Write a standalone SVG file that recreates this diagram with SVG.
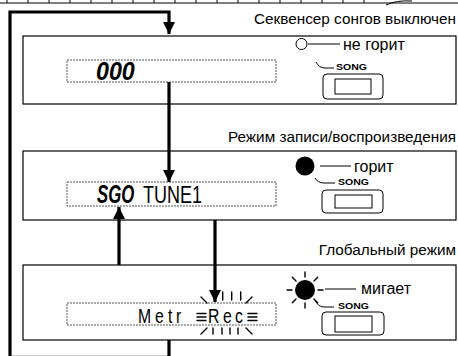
<svg xmlns="http://www.w3.org/2000/svg" width="458" height="356" viewBox="0 0 458 356">
<style>
.panel{fill:#fff;stroke:#000;stroke-width:1.2}
.disp{fill:none;stroke:#555;stroke-width:1;stroke-dasharray:2 1}
.conn{fill:none;stroke:#000;stroke-width:3.2}
.thin{fill:none;stroke:#000;stroke-width:1}
.ray{fill:none;stroke:#000;stroke-width:1.4;stroke-linecap:round}
.hdr{font-family:"Liberation Sans",Arial,sans-serif;font-size:15.3px;fill:#000;text-anchor:end}
.lbl{font-family:"Liberation Sans",Arial,sans-serif;font-size:16px;fill:#000}
.song{font-family:"Liberation Sans",Arial,sans-serif;font-size:9px;font-weight:bold;fill:#000}
.lcd{font-family:"Liberation Sans",Arial,sans-serif;font-size:25px;font-weight:bold;font-style:italic;fill:#000}
.seg{font-family:"Liberation Sans",Arial,sans-serif;font-size:24px;fill:#000}
.met{font-family:"Liberation Sans",Arial,sans-serif;font-size:21px;fill:#000}
.btn{fill:#fff;stroke:#000;stroke-width:1}
</style>
<defs>
<marker id="ah" markerUnits="userSpaceOnUse" markerWidth="12" markerHeight="12" refX="10" refY="5" orient="auto" viewBox="0 0 10 10">
<path d="M0,0 L10,5 L0,10 z" fill="#000"/>
</marker>
</defs>
<g id="edge">
<line x1="0" y1="3" x2="458" y2="3" stroke="#000" stroke-width="1"/>
<path d="M7,0V3M28,0V3M49,0V3M70,0V3M91,0V3M112,0V3M133,0V3M154,0V3M175,0V3M196,0V3M217,0V3M238,0V3M259,0V3M280,0V3M301,0V3M322,0V3M343,0V3M364,0V3" stroke="#000" stroke-width="1"/>
<path d="M386,5 Q396,0 412,1" fill="none" stroke="#000" stroke-width="1"/>
<line x1="10" y1="355.5" x2="169" y2="355.5" stroke="#ccc" stroke-width="1"/>
</g>
<g id="panel1">
<rect class="panel" x="23" y="36" width="433" height="68"/>
<text class="hdr" x="456" y="24">Секвенсер сонгов выключен</text>
<rect class="disp" x="67" y="60" width="209" height="22"/>
<text class="lcd" transform="translate(96 80) scale(0.93 1)" x="0" y="0">000</text>
<circle cx="301.5" cy="44" r="5.5" fill="#fff" stroke="#000" stroke-width="1"/>
<line class="thin" x1="308" y1="44" x2="340" y2="44"/>
<text class="lbl" x="343" y="50">не горит</text>
<path class="thin" d="M316,62 Q319,68 325,68 H334"/>
<text class="song" x="336" y="70" textLength="31" lengthAdjust="spacingAndGlyphs">SONG</text>
<rect class="btn" x="323" y="74" width="60" height="25" rx="4"/>
<rect class="btn" x="335" y="79" width="36" height="15"/>
</g>
<g id="panel2">
<rect class="panel" x="23" y="151" width="433" height="69"/>
<text class="hdr" x="456" y="142">Режим записи/воспроизведения</text>
<rect class="disp" x="67" y="182" width="209" height="24"/>
<text class="lcd" transform="translate(97 203) scale(0.67 1)" x="0" y="0">SGO</text>
<text class="seg" transform="translate(143 203) scale(0.75 1)" x="0" y="0">TUNE1</text>
<circle cx="305" cy="166" r="9.5" fill="#000"/>
<line class="thin" x1="320" y1="166" x2="351" y2="166"/>
<text class="lbl" x="354" y="172">горит</text>
<path class="thin" d="M315,178 Q318,183 324,183 H335"/>
<text class="song" x="338" y="185" textLength="31" lengthAdjust="spacingAndGlyphs">SONG</text>
<rect class="btn" x="322" y="190" width="61" height="23" rx="4"/>
<rect class="btn" x="335" y="195" width="37" height="13"/>
</g>
<g id="panel3">
<rect class="panel" x="23" y="265" width="433" height="75"/>
<text class="hdr" x="456" y="255">Глобальный режим</text>
<rect class="disp" x="67" y="303" width="209" height="22"/>
<text class="met" transform="scale(0.75 1)" x="184 206.7 224 234.7 277.3 297.3 313.3" y="323">MetrRec</text>
<path class="ray" d="M197,313.5H206M197,317H206M197,320.5H206M248,313.5H257M248,317H257M248,320.5H257"/>
<path class="ray" d="M201,297L207,303M222.7,292V300M231.7,292V300M240.7,292V300M252,297L246,303"/>
<path class="ray" d="M201,334L207,328M213,328V334M222,328V334M230,328V334M238,328V334M252,334L246,328"/>
<circle cx="305" cy="290" r="10" fill="#000"/>
<path class="ray" d="M305,272V277M305,303V308M287,290H292M318,290H323M292.3,277.3L296,281M317.7,277.3L314,281M292.3,302.7L296,299M317.7,302.7L314,299"/>
<line class="thin" x1="325" y1="289" x2="356" y2="289"/>
<text class="lbl" x="361" y="294">мигает</text>
<path class="thin" d="M315,300 Q318,307 324,307 H334"/>
<text class="song" x="338" y="309" textLength="31" lengthAdjust="spacingAndGlyphs">SONG</text>
<rect class="btn" x="322" y="312" width="62" height="23" rx="4"/>
<rect class="btn" x="335" y="316" width="37" height="16"/>
</g>
<g id="connectors">
<path class="conn" d="M10,356 V12 H169 V34" marker-end="url(#ah)"/>
<path class="conn" d="M169,82 V182" marker-end="url(#ah)"/>
<path class="conn" d="M119,265 V207" marker-end="url(#ah)"/>
<path class="conn" d="M215,220 V302" marker-end="url(#ah)"/>
<path class="conn" d="M169,340 V356"/>
</g>
</svg>
